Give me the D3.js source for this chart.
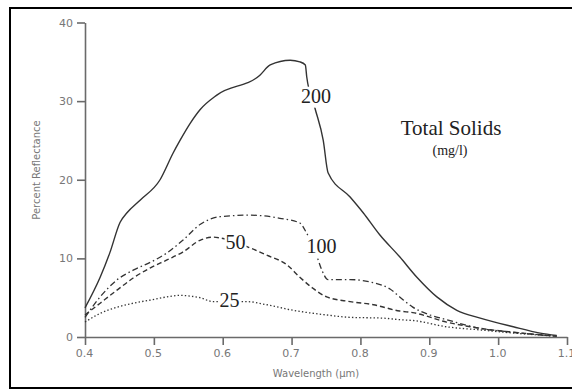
<!DOCTYPE html>
<html>
<head>
<meta charset="utf-8">
<script src="https://cdn.jsdelivr.net/npm/d3@7/dist/d3.min.js"></script>
<style>
  html, body { margin: 0; padding: 0; background: #fff; }
  svg { display: block; }
</style>
</head>
<body>
<svg id="chart" width="572" height="390"></svg>
<script>
// ---- Data (wavelength in µm, percent reflectance) ----
const xTicks = [0.4, 0.5, 0.6, 0.7, 0.8, 0.9, 1.0, 1.1];
const xTickLabels = ["0.4", "0.5", "0.6", "0.7", "0.8", "0.9", "1.0", "1.1"];
const yTicks = [0, 10, 20, 30, 40];
const yTickLabels = ["0", "10", "20", "30", "40"];

const wl200 = [0.400,0.422,0.436,0.451,0.461,0.480,0.509,0.528,0.538,0.553,0.567,0.592,0.654,0.669,0.698,0.712,0.720,0.722,0.734,0.746,0.753,0.785,0.804,0.828,0.857,0.882,0.911,0.940,0.974,1.022,1.061,1.085];
const r200  = [3.7,7.6,10.7,14.6,15.8,17.4,20.0,23.4,25.0,27.2,28.9,30.8,33.3,34.6,35.2,35.0,34.6,33.1,29.1,25.0,20.9,17.8,15.8,13.0,10.2,7.6,5.1,3.4,2.4,1.3,0.5,0.2];

const wl100 = [0.400,0.422,0.447,0.470,0.495,0.519,0.542,0.567,0.596,0.639,0.683,0.712,0.722,0.737,0.744,0.753,0.785,0.819,0.843,0.857,0.876,0.901,0.925,0.974,1.022,1.085];
const r100  = [2.5,5.1,7.3,8.5,9.5,10.7,12.3,14.3,15.3,15.5,15.1,14.5,13.2,10.2,8.5,7.3,7.3,6.9,6.1,5.1,3.8,2.8,2.2,1.1,0.6,0.1];

const wl50 = [0.400,0.422,0.447,0.470,0.495,0.519,0.542,0.567,0.586,0.596,0.635,0.664,0.693,0.712,0.731,0.751,0.785,0.819,0.857,0.876,0.925,0.974,1.022,1.085];
const r50  = [2.8,4.3,6.0,7.5,8.8,9.8,10.8,12.3,12.7,12.6,11.5,10.4,9.2,7.6,6.2,5.1,4.5,4.1,3.3,3.1,1.9,1.1,0.6,0.1];

const wl25 = [0.400,0.422,0.447,0.470,0.495,0.519,0.538,0.553,0.567,0.586,0.635,0.664,0.702,0.751,0.785,0.833,0.857,0.876,0.925,0.974,1.022,1.085];
const r25  = [1.9,3.0,3.8,4.3,4.7,5.1,5.3,5.2,5.0,4.5,4.5,4.1,3.4,2.8,2.5,2.4,2.2,2.1,1.3,0.9,0.5,0.1];

const seriesNames = ["200", "100", "50", "25"];
const curveLabels = [
  { name: "200", wl: 0.7355, r: 29.8 },
  { name: "100", wl: 0.7435, r: 10.7 },
  { name: "50",  wl: 0.6186, r: 11.2 },
  { name: "25",  wl: 0.6099, r: 3.8 }
];

// ---- Layout ----
const svg = d3.select("#chart");
const x = d3.scaleLinear().domain([0.4, 1.1]).range([85, 567]);
const y = d3.scaleLinear().domain([0, 40]).range([337, 22.5]);

// frame
svg.append("rect").attr("x", 10).attr("y", 8).attr("width", 580).attr("height", 380)
  .attr("fill", "#fff").attr("stroke", "#000").attr("stroke-width", 2);

const axisColor = "#6a6a6a";
const tickFont = "DejaVu Sans, Verdana, sans-serif";

// axes
const xAxis = d3.axisBottom(x).tickValues(xTicks).tickFormat((d, i) => xTickLabels[i])
  .tickSize(8).tickSizeOuter(0).tickPadding(4);
const yAxis = d3.axisLeft(y).tickValues(yTicks).tickFormat((d, i) => yTickLabels[i])
  .tickSize(8).tickSizeOuter(0).tickPadding(4);

const gx = svg.append("g").attr("transform", `translate(0,${y(0)})`).call(xAxis);
const gy = svg.append("g").attr("transform", `translate(${x(0.4)},0)`).call(yAxis);
[gx, gy].forEach(g => {
  g.selectAll("path, line").attr("stroke", axisColor).attr("stroke-width", 1.6);
  g.selectAll("text").attr("fill", "#777").style("font-family", tickFont).style("font-size", "11px");
});
gx.selectAll("text").attr("dx", "-1");

// axis titles
svg.append("text").attr("x", 316).attr("y", 377).attr("text-anchor", "middle")
  .style("font-family", tickFont).style("font-size", "10px").attr("fill", "#777")
  .text("Wavelength (µm)");
svg.append("text").attr("transform", "translate(40,170) rotate(-90)").attr("text-anchor", "middle")
  .style("font-family", tickFont).style("font-size", "10px").attr("fill", "#777")
  .text("Percent Reflectance");

// lines
const line = d3.line().x(d => x(d[0])).y(d => y(d[1])).curve(d3.curveMonotoneX);
const zip = (a, b) => a.map((v, i) => [v, b[i]]);
const series = [
  { pts: zip(wl200, r200), dash: null, w: 1.4 },
  { pts: zip(wl100, r100), dash: "6,3,1.5,3", w: 1.3 },
  { pts: zip(wl50, r50), dash: "5,3", w: 1.4 },
  { pts: zip(wl25, r25), dash: "1.4,2.2", w: 1.3 }
];
series.forEach(s => {
  svg.append("path").attr("d", line(s.pts)).attr("fill", "none")
    .attr("stroke", "#333").attr("stroke-width", s.w)
    .attr("stroke-dasharray", s.dash);
});

// curve labels with white knockouts
curveLabels.forEach(l => {
  const g = svg.append("g");
  const t = g.append("text").attr("x", x(l.wl)).attr("y", y(l.r)).attr("text-anchor", "middle")
    .style("font-family", "Liberation Serif, Times New Roman, serif").style("font-size", "20px")
    .attr("fill", "#222").text(l.name);
  const bb = t.node().getBBox();
  g.insert("rect", "text").attr("x", bb.x - 1).attr("y", bb.y + 2).attr("width", bb.width + 2)
    .attr("height", bb.height - 1).attr("fill", "#fff");
});

// legend title
svg.append("text").attr("x", 451).attr("y", 135).attr("text-anchor", "middle")
  .style("font-family", "Liberation Serif, Times New Roman, serif").style("font-size", "21px")
  .attr("fill", "#222").text("Total Solids");
svg.append("text").attr("x", 450).attr("y", 155).attr("text-anchor", "middle")
  .style("font-family", "Liberation Serif, Times New Roman, serif").style("font-size", "14px")
  .attr("fill", "#222").text("(mg/l)");
</script>
</body>
</html>
